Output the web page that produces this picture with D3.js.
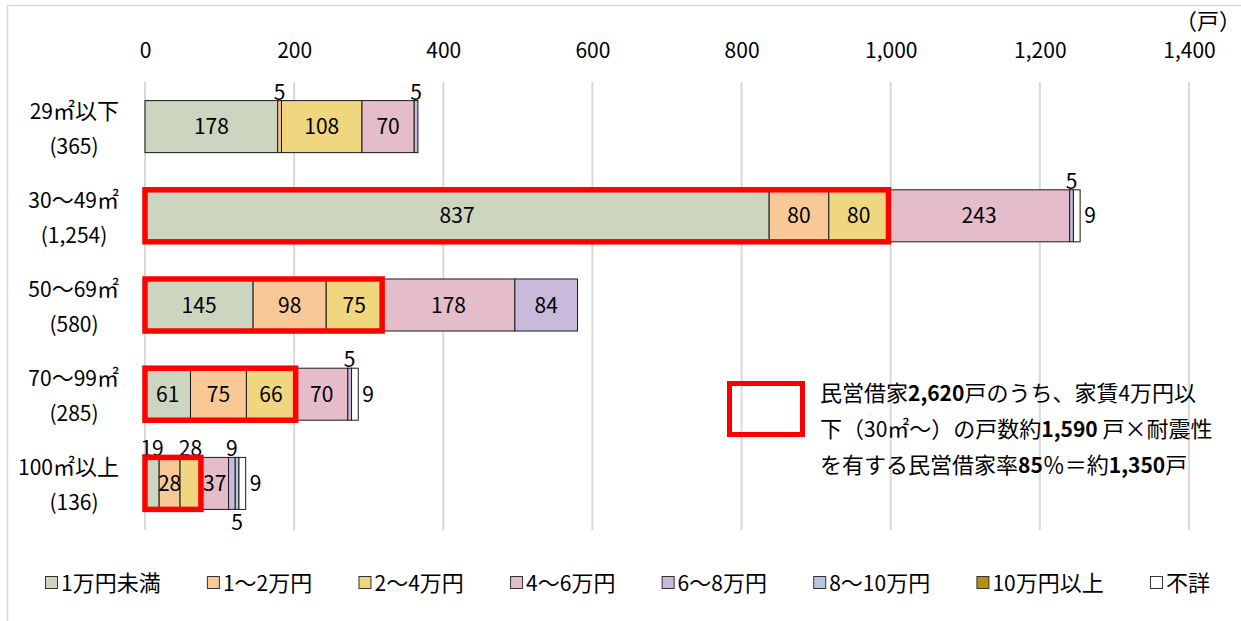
<!DOCTYPE html>
<html lang="ja">
<head>
<meta charset="utf-8">
<script src="https://cdn.jsdelivr.net/npm/d3@7"></script>
<style>
  html, body { margin: 0; padding: 0; background: #fff; }
  svg { display: block; font-family: "Noto Sans CJK JP", "Noto Sans", sans-serif; }
</style>
</head>
<body>
<svg id="chart" width="1241" height="621"></svg>
<script>
// 床面積帯（上段ラベル・下段は合計戸数）
const categories = ["29㎡以下", "30～49㎡", "50～69㎡", "70～99㎡", "100㎡以上"];
const categoryTotals = ["(365)", "(1,254)", "(580)", "(285)", "(136)"];

// 家賃帯
const seriesNames = ["1万円未満", "1～2万円", "2～4万円", "4～6万円", "6～8万円", "8～10万円", "10万円以上", "不詳"];

// 各家賃帯の戸数（categories の順）
const rentUnder1 = [178, 837, 145, 61, 19];
const rent1to2   = [5, 80, 98, 75, 28];
const rent2to4   = [108, 80, 75, 66, 28];
const rent4to6   = [70, 243, 178, 70, 37];
const rent6to8   = [5, 5, 84, 5, 9];
const rent8to10  = [0, 0, 0, 0, 5];
const rent10plus = [0, 0, 0, 0, 0];
const rentUnknown = [0, 9, 0, 9, 9];

const seriesValues = [rentUnder1, rent1to2, rent2to4, rent4to6, rent6to8, rent8to10, rent10plus, rentUnknown];
const seriesColors = ["#cbd5c0", "#f8c896", "#f1d680", "#e5bcc9", "#c9b9da", "#b5c8de", "#b8900f", "#ffffff"];

// x 軸目盛
const xTicks = [0, 200, 400, 600, 800, 1000, 1200, 1400];
const xTickLabels = ["0", "200", "400", "600", "800", "1,000", "1,200", "1,400"];

// 小さい区分の値ラベルはバーの外に置く（床面積帯, 家賃帯, 置き場所）
const outsideLabels = [
  ["29㎡以下", "1～2万円", "above"],
  ["29㎡以下", "6～8万円", "above"],
  ["30～49㎡", "6～8万円", "above"],
  ["30～49㎡", "不詳", "right"],
  ["70～99㎡", "6～8万円", "above"],
  ["70～99㎡", "不詳", "right"],
  ["100㎡以上", "1万円未満", "above"],
  ["100㎡以上", "2～4万円", "above"],
  ["100㎡以上", "6～8万円", "above"],
  ["100㎡以上", "8～10万円", "below"],
  ["100㎡以上", "不詳", "right"]
];

// 家賃4万円以下を囲む区分（30㎡以上のみ）
const highlightCategories = ["30～49㎡", "50～69㎡", "70～99㎡", "100㎡以上"];
const highlightSeries = ["1万円未満", "1～2万円", "2～4万円"];

// 注記テキスト（太字部分は b:true）
const noteLines = [
  [{t: "民営借家"}, {t: "2,620", b: true}, {t: "戸のうち、家賃4万円以"}],
  [{t: "下（30㎡～）の戸数約"}, {t: "1,590", b: true}, {t: " 戸×耐震性"}],
  [{t: "を有する民営借家率"}, {t: "85", b: true}, {t: "％＝約"}, {t: "1,350", b: true}, {t: "戸"}]
];

const svg = d3.select("#chart");
const W = 1241, H = 621;
const numSize = 21;   // 数字の文字サイズ
const textSize = 22;  // 和文の文字サイズ

// 数字と和文で文字サイズを分けて tspan を追加する
function addMixed(textSel, str, bold) {
  const parts = str.split(/([0-9,.() ]+)/).filter(p => p.length);
  parts.forEach(p => {
    const isNum = /^[0-9,.() ]+$/.test(p);
    textSel.append("tspan")
      .attr("font-size", isNum ? numSize : textSize)
      .attr("font-weight", bold ? "bold" : "normal")
      .text(p);
  });
  return textSel;
}

// 外枠
svg.append("rect")
  .attr("x", 7.5).attr("y", 5.5)
  .attr("width", W + 10).attr("height", H + 10)
  .attr("fill", "none").attr("stroke", "#d9d9d9").attr("stroke-width", 1.5);

const x = d3.scaleLinear().domain([0, 1400]).range([145, 1189]);
const y = d3.scaleBand().domain(categories).range([82, 528]).paddingInner(0.417).paddingOuter(0.2085);

// グリッド線
svg.append("g").selectAll("line").data(xTicks).join("line")
  .attr("x1", d => x(d)).attr("x2", d => x(d))
  .attr("y1", 82).attr("y2", 530)
  .attr("stroke", "#d9d9d9").attr("stroke-width", 2);

// 上側の目盛ラベル
const axis = d3.axisTop(x).tickValues(xTicks).tickFormat((d, i) => xTickLabels[i]).tickSize(0).tickPadding(0);
const axisG = svg.append("g").attr("transform", "translate(0,58)").call(axis);
axisG.select(".domain").remove();
axisG.selectAll("text")
  .attr("font-size", numSize).attr("fill", "#000")
  .attr("font-family", "'Noto Sans CJK JP', sans-serif")
  .attr("dy", 0);

svg.append("text").attr("x", 1208).attr("y", 29)
  .attr("text-anchor", "middle").attr("font-size", textSize).text("（戸）");

// 積み上げデータ
const rows = categories.map((c, i) => {
  const r = {category: c};
  seriesNames.forEach((s, j) => { r[s] = seriesValues[j][i]; });
  return r;
});
const stacked = d3.stack().keys(seriesNames)(rows);
const color = d3.scaleOrdinal().domain(seriesNames).range(seriesColors);

const barsG = svg.append("g");
stacked.forEach(layer => {
  barsG.append("g").selectAll("rect")
    .data(layer.filter(d => d[1] - d[0] > 0))
    .join("rect")
    .attr("x", d => x(d[0]))
    .attr("y", d => y(d.data.category))
    .attr("width", d => x(d[1]) - x(d[0]))
    .attr("height", y.bandwidth())
    .attr("fill", color(layer.key))
    .attr("stroke", "#1a1a1a").attr("stroke-width", 1);
});

// 値ラベル
const outsideKey = new Map(outsideLabels.map(o => [o[0] + "|" + o[1], o[2]]));
const labelG = svg.append("g").attr("font-size", numSize).attr("fill", "#000");
stacked.forEach(layer => {
  layer.forEach(d => {
    const v = d[1] - d[0];
    if (v <= 0) return;
    const cat = d.data.category;
    const place = outsideKey.get(cat + "|" + layer.key);
    const cx = (x(d[0]) + x(d[1])) / 2;
    const top = y(cat), bh = y.bandwidth();
    const t = labelG.append("text").text(v);
    if (!place) {
      t.attr("x", cx).attr("y", top + bh / 2 + 7.5).attr("text-anchor", "middle");
    } else if (place === "above") {
      t.attr("x", cx).attr("y", top - 1).attr("text-anchor", "middle");
    } else if (place === "below") {
      t.attr("x", cx).attr("y", top + bh + 21).attr("text-anchor", "middle");
    } else {
      t.attr("x", x(d[1]) + 4).attr("y", top + bh / 2 + 7.5).attr("text-anchor", "start");
    }
  });
});

// 家賃4万円以下の赤枠
const hiStart = seriesNames.indexOf(highlightSeries[0]);
const hiEnd = seriesNames.indexOf(highlightSeries[highlightSeries.length - 1]);
svg.append("g").selectAll("rect")
  .data(highlightCategories)
  .join("rect")
  .attr("x", c => x(stacked[hiStart][categories.indexOf(c)][0]))
  .attr("y", c => y(c))
  .attr("width", c => x(stacked[hiEnd][categories.indexOf(c)][1]) - x(stacked[hiStart][categories.indexOf(c)][0]))
  .attr("height", y.bandwidth())
  .attr("fill", "none").attr("stroke", "#ff0000").attr("stroke-width", 5.5);

// カテゴリラベル（上段は右揃え、下段の合計は中央揃え）
const catG = svg.append("g");
categories.forEach((c, i) => {
  const cy = y(c) + y.bandwidth() / 2;
  addMixed(catG.append("text").attr("x", 119).attr("y", cy - 8).attr("text-anchor", "end"), c);
  addMixed(catG.append("text").attr("x", 74).attr("y", cy + 27).attr("text-anchor", "middle"), categoryTotals[i]);
});

// 注記
svg.append("rect").attr("x", 729.5).attr("y", 383.5).attr("width", 73).attr("height", 51)
  .attr("fill", "none").attr("stroke", "#ff0000").attr("stroke-width", 5);
const noteG = svg.append("g").attr("fill", "#000");
noteLines.forEach((line, i) => {
  const t = noteG.append("text").attr("x", 820).attr("y", 401 + i * 36);
  line.forEach(p => addMixed(t, p.t, p.b));
});

// 凡例（左端 45 から右端 1210 まで均等に並べる）
const legendG = svg.append("g");
const items = seriesNames.map((s, i) => {
  const g = legendG.append("g");
  g.append("rect").attr("x", 0.5).attr("y", -6.5).attr("width", 12).attr("height", 12)
    .attr("fill", seriesColors[i]).attr("stroke", "#333").attr("stroke-width", 1);
  const t = addMixed(g.append("text").attr("x", 16).attr("y", 8), s);
  return {g, w: 16 + t.node().getComputedTextLength()};
});
const legendLeft = 45, legendRight = 1210;
const gap = (legendRight - legendLeft - d3.sum(items, d => d.w)) / (items.length - 1);
let lx = legendLeft;
items.forEach(it => {
  it.g.attr("transform", `translate(${lx},583)`);
  lx += it.w + gap;
});
</script>
</body>
</html>
